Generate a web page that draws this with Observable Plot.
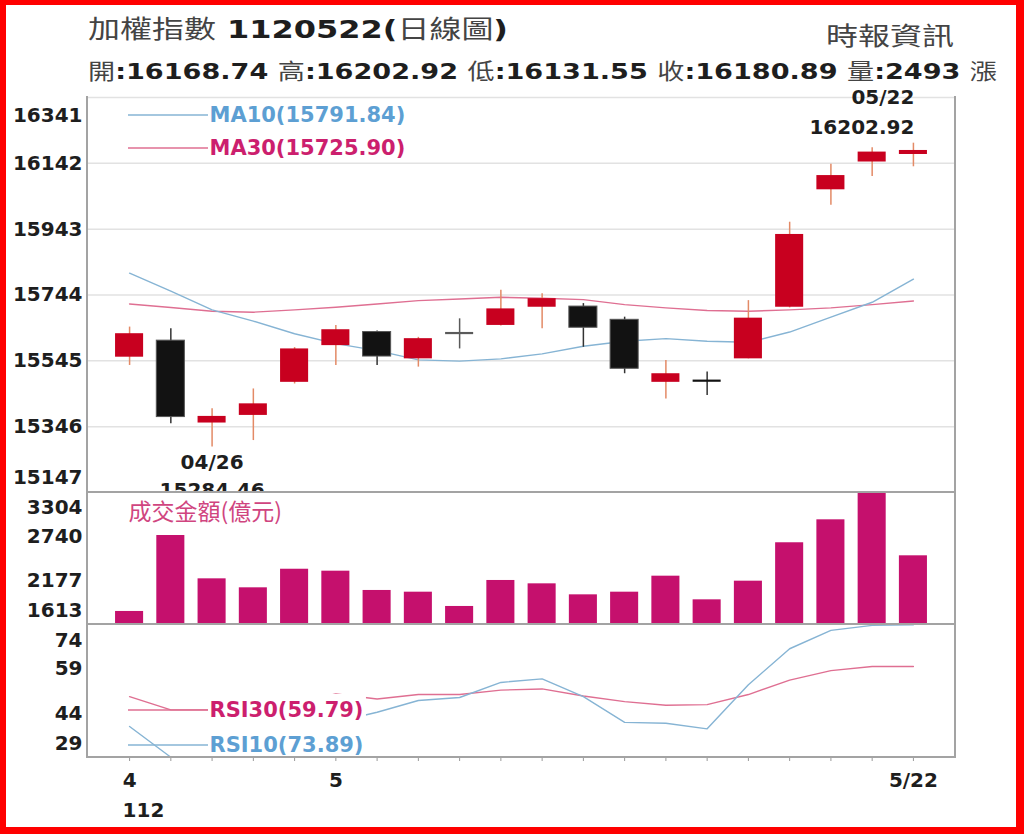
<!DOCTYPE html>
<html>
<head>
<meta charset="utf-8">
<script src="https://cdn.jsdelivr.net/npm/d3@7"></script>
<script src="https://cdn.jsdelivr.net/npm/@observablehq/plot@0.6"></script>
<style>
  html, body { margin: 0; padding: 0; background: #fff; }
  #wrap { position: relative; width: 1024px; height: 834px; overflow: hidden; background: #fff;
          font-family: "DejaVu Sans", "Noto Sans CJK TC", sans-serif; }
  .row { position: absolute; white-space: nowrap; transform-origin: 0 50%; line-height: 1; }
  .cj { font-family: "Noto Sans CJK TC", sans-serif; font-weight: 400; color: #444; }
  .nb { font-family: "DejaVu Sans", sans-serif; font-weight: 700; color: #1e1e1e; }
  .panel { position: absolute; left: 0; }
  #border { position: absolute; left: 0; top: 0; width: 1024px; height: 834px; box-sizing: border-box;
            border-style: solid; border-color: #ff0000; border-width: 5px 8px 7px 6px; pointer-events: none; z-index: 10; }
</style>
</head>
<body>
<div id="wrap">
  <div id="t1" class="row" style="left:88px;top:15px;font-size:25px;"><span class="cj">加權指數</span><span class="nb"> 1120522(</span><span class="cj">日線圖</span><span class="nb">)</span></div>
  <div id="t2" class="row" style="left:0px;top:22px;font-size:25px;"><span class="cj">時報資訊</span></div>
  <div id="t3" class="row" style="left:88px;top:58px;font-size:22px;"></div>
  <div id="p1" class="panel" style="top:80px;"></div>
  <div id="p2" class="panel" style="top:490px;"></div>
  <div id="p3" class="panel" style="top:622px;"></div>
  <div id="border"></div>
</div>
<script>
// ---------------- data ----------------
const dates = ["04/24","04/25","04/26","04/27","04/28","05/02","05/03","05/04","05/05","05/08",
               "05/09","05/10","05/11","05/12","05/15","05/16","05/17","05/18","05/19","05/22"];
const open  = [15556,15606,15357,15380,15480,15591,15632,15551,15629,15652,15707,15709,15669,15480,15487,15551,15707,16062,16146,16168.74];
const high  = [15647,15642,15400,15460,15585,15652,15635,15616,15672,15758,15748,15718,15677,15546,15511,15727,15964,16139,16189,16202.92];
const low   = [15531,15355,15284.46,15304,15475,15531,15531,15526,15581,15650,15642,15586,15506,15430,15440,15551,15705,16015,16102,16131.55];
const close = [15627,15375,15377,15415,15581,15639,15558,15612,15629,15702,15733,15645,15521,15506,15485,15674,15927,16105,16176,16180.89];
const volume = [1780,2753,2198,2083,2321,2296,2049,2027,1844,2177,2134,1993,2027,2232,1929,2168,2660,2954,3304,2493];
const ma10 = [15810,15756,15699,15665,15627,15597,15576,15548,15544,15551,15566,15589,15604,15612,15604,15601,15632,15677,15722,15791.84];
const ma30 = [15717,15706,15695,15692,15699,15707,15717,15727,15732,15737,15734,15730,15715,15705,15697,15695,15699,15705,15715,15725.90];
const rsi10 = [39.5,29.1,26,28,35,41,44.3,48.3,49.3,54.4,55.6,49.6,40.9,40.6,38.7,53.6,65.8,72.0,73.7,73.89];
const rsi30 = [49.6,45.1,45.1,46.0,47.5,50.5,48.8,50.3,50.3,51.8,52.2,49.8,47.9,46.7,46.9,50.3,55.2,58.4,59.8,59.79];

const priceTicks = [15147,15346,15545,15744,15943,16142,16341];
const volTicks = [1613,2177,2740,3304];
const rsiTicks = [29,44,59,74];
const xLabelDates = ["04/24","05/02","05/22"];
const xLabels = ["4","5","5/22"];
const yearLabel = "112";
const volTitle = "成交金額(億元)";

// ---------------- helpers ----------------
const RED = "#c8001f", BLACK = "#121212", FLAT = "#5a5a5a";
const BLUE_T = "#5d9fd3", PINK_T = "#cc1f6e", BLUE_L = "#86b4d4", PINK_L = "#df6f92";
const VOLC = "#c5106d", FRAME = "#a3a3a3";
const rows = dates.map((d, i) => ({date: d, open: open[i], high: high[i], low: low[i], close: close[i],
  vol: volume[i], ma10: ma10[i], ma30: ma30[i], rsi10: rsi10[i], rsi30: rsi30[i]}));
const dir = d => d.close > d.open ? 1 : d.close < d.open ? -1 : 0;
const isDoji = d => Math.abs(d.close - d.open) < 4;
const bodyColor = d => dir(d) > 0 ? RED : dir(d) < 0 ? BLACK : FLAT;
const wickColor = d => dir(d) > 0 ? "#e38a66" : dir(d) < 0 ? "#333" : FLAT;

const W = 1024, ML = 87, MR = 69;
const xOpts = {type: "band", domain: dates, paddingInner: 0.32, paddingOuter: 0.68, round: false};
const FONT = "DejaVu Sans";

const measureCtx = document.createElement("canvas").getContext("2d");
function measure(text, font) { measureCtx.font = font; return measureCtx.measureText(text).width; }
function dimsOf(args) { return args.find(a => a && typeof a === "object" && "marginLeft" in a && "width" in a && "height" in a); }

function borders(sides, stroke = FRAME, sw = 2) {
  return (...args) => {
    const d = dimsOf(args);
    const x0 = d.marginLeft, x1 = d.width - d.marginRight, y0 = d.marginTop, y1 = d.height - d.marginBottom;
    const g = d3.create("svg:g").attr("stroke", stroke).attr("stroke-width", sw).attr("fill", "none");
    if (sides.includes("l")) g.append("line").attr("x1", x0).attr("x2", x0).attr("y1", y0 - 1).attr("y2", y1 + 1);
    if (sides.includes("r")) g.append("line").attr("x1", x1).attr("x2", x1).attr("y1", y0 - 1).attr("y2", y1 + 1);
    if (sides.includes("t")) g.append("line").attr("x1", x0).attr("x2", x1).attr("y1", y0).attr("y2", y0);
    if (sides.includes("b")) g.append("line").attr("x1", x0).attr("x2", x1).attr("y1", y1).attr("y2", y1);
    return g.node();
  };
}
function swatch(color, dy, bgText) {
  return (...args) => {
    const d = dimsOf(args);
    const x0 = d.marginLeft, y0 = d.marginTop;
    const g = d3.create("svg:g");
    if (bgText) {
      const w = measure(bgText, `bold 21px "${FONT}"`);
      g.append("rect").attr("x", x0 + 121).attr("y", y0 + dy - 16).attr("width", w + 4).attr("height", 35).attr("fill", "white");
    }
    g.append("line").attr("x1", x0 + 41).attr("x2", x0 + 121).attr("y1", y0 + dy).attr("y2", y0 + dy)
      .attr("stroke", color).attr("stroke-width", 1.3);
    return g.node();
  };
}
const legendText = (label, color, dy, dx = 122, extra = {}) => Plot.text([label], {
  frameAnchor: "top-left", dx, dy, text: d => d, textAnchor: "start", lineAnchor: "middle",
  fill: color, fontSize: 21, fontWeight: "bold", ...extra});
const yAxisParts = (ticks, dTop, dBottom) => [
  Plot.axisY(ticks.slice(1, -1), {tickSize: 0, tickPadding: 5, tickFormat: "d", fontSize: 20, fontWeight: "bold", fill: "#1e1e1e", label: null}),
  Plot.axisY([ticks[ticks.length - 1]], {tickSize: 0, tickPadding: 5, tickFormat: "d", fontSize: 20, fontWeight: "bold", fill: "#1e1e1e", label: null, dy: dTop}),
  Plot.axisY([ticks[0]], {tickSize: 0, tickPadding: 5, tickFormat: "d", fontSize: 20, fontWeight: "bold", fill: "#1e1e1e", label: null, dy: dBottom})
];
const svgStyle = {fontFamily: FONT, overflow: "hidden", background: "transparent"};

// ---------------- price panel ----------------
const last = rows[rows.length - 1];
const lowRow = rows.reduce((a, b) => (b.low < a.low ? b : a));
const highRow = rows.reduce((a, b) => (b.high > a.high ? b : a));
const pricePlot = Plot.plot({
  width: W, height: 412, marginLeft: ML, marginRight: MR, marginTop: 17, marginBottom: 0,
  style: svgStyle,
  x: {...xOpts, axis: null},
  y: {domain: [priceTicks[0], priceTicks[priceTicks.length - 1]]},
  marks: [
    Plot.ruleY(priceTicks, {stroke: "#e2e2e2", strokeWidth: 1.5}),
    Plot.line(rows, {x: "date", y: "ma30", stroke: PINK_L, strokeWidth: 1.4}),
    Plot.line(rows, {x: "date", y: "ma10", stroke: BLUE_L, strokeWidth: 1.4}),
    Plot.ruleX(rows, {x: "date", y1: "low", y2: "high", stroke: wickColor, strokeWidth: 1.5}),
    Plot.barY(rows.filter(d => !isDoji(d)), {x: "date", y1: "open", y2: "close", fill: bodyColor,
      stroke: d => dir(d) < 0 ? "#555" : "none", strokeWidth: 1}),
    Plot.tickY(rows.filter(isDoji), {x: "date", y: "close", stroke: bodyColor, strokeWidth: 2.2}),
    Plot.text([highRow], {x: "date", y: "high", text: "date", dy: -46, textAnchor: "end", dx: 1, fontSize: 20, fontWeight: "bold", fill: "#1e1e1e"}),
    Plot.text([highRow], {x: "date", y: "high", text: d => d.high.toFixed(2), dy: -16, textAnchor: "end", dx: 1, fontSize: 20, fontWeight: "bold", fill: "#1e1e1e"}),
    Plot.text([lowRow], {x: "date", y: "low", text: "date", dy: 16, fontSize: 20, fontWeight: "bold", fill: "#1e1e1e"}),
    Plot.text([lowRow], {x: "date", y: "low", text: d => d.low.toFixed(2), dy: 44, fontSize: 20, fontWeight: "bold", fill: "#1e1e1e"}),
    swatch(BLUE_L, 18),
    swatch(PINK_L, 51),
    legendText(`MA10(${ma10[ma10.length - 1].toFixed(2)})`, BLUE_T, 18),
    legendText(`MA30(${ma30[ma30.length - 1].toFixed(2)})`, PINK_T, 51),
    ...yAxisParts(priceTicks, 18, -15),
    borders("lr")
  ]
});
document.getElementById("p1").append(pricePlot);

// ---------------- volume panel ----------------
const volPlot = Plot.plot({
  width: W, height: 134, marginLeft: ML, marginRight: MR, marginTop: 2, marginBottom: 0,
  style: svgStyle,
  x: {...xOpts, axis: null},
  y: {domain: [volTicks[0], volTicks[volTicks.length - 1]]},
  marks: [
    Plot.barY(rows, {x: "date", y1: volTicks[0], y2: "vol", fill: VOLC, clip: true}),
    Plot.text([volTitle], {frameAnchor: "top-left", dx: 41, dy: 20, text: d => d, textAnchor: "start", lineAnchor: "middle",
      fill: "#d0457f", fontSize: 23, fontFamily: "Noto Sans CJK TC"}),
    ...yAxisParts(volTicks, 15, -14),
    borders("lrt")
  ]
});
document.getElementById("p2").append(volPlot);

// ---------------- RSI panel ----------------
const rsiPlot = Plot.plot({
  width: W, height: 205, marginLeft: ML, marginRight: MR, marginTop: 2, marginBottom: 70,
  style: svgStyle,
  x: {...xOpts},
  y: {domain: [rsiTicks[0], rsiTicks[rsiTicks.length - 1]]},
  marks: [
    Plot.line(rows, {x: "date", y: "rsi30", stroke: PINK_L, strokeWidth: 1.4, clip: true}),
    Plot.line(rows, {x: "date", y: "rsi10", stroke: BLUE_L, strokeWidth: 1.4, clip: true}),
    swatch(PINK_L, 86, `RSI30(${rsi30[rsi30.length - 1].toFixed(2)})`),
    swatch(BLUE_L, 121, `RSI10(${rsi10[rsi10.length - 1].toFixed(2)})`),
    legendText(`RSI30(${rsi30[rsi30.length - 1].toFixed(2)})`, PINK_T, 86),
    legendText(`RSI10(${rsi10[rsi10.length - 1].toFixed(2)})`, BLUE_T, 121),
    ...yAxisParts(rsiTicks, 16, -14),
    Plot.axisX(dates, {tickSize: 4, tickFormat: () => "", stroke: "#999", label: null}),
    Plot.axisX(xLabelDates, {tickSize: 0, tickPadding: 15, tickFormat: d => xLabels[xLabelDates.indexOf(d)],
      fontSize: 20, fontWeight: "bold", fill: "#1e1e1e", label: null}),
    Plot.axisX([xLabelDates[0]], {tickSize: 0, tickPadding: 45, tickFormat: () => yearLabel, textAnchor: "start", dx: -7,
      fontSize: 20, fontWeight: "bold", fill: "#1e1e1e", label: null}),
    borders("lrtb")
  ]
});
document.getElementById("p3").append(rsiPlot);

// ---------------- header ----------------
const t3 = document.getElementById("t3");
const f2 = v => v.toFixed(2);
const parts = [["開", f2(last.open)], ["高", f2(last.high)], ["低", f2(last.low)], ["收", f2(last.close)], ["量", String(last.vol)]];
t3.innerHTML = parts.map(([k, v]) => `<span class="cj">${k}</span><span class="nb">:${v} </span>`).join("") + `<span class="cj">漲</span>`;

function fit(id, target, rightEdge) {
  const el = document.getElementById(id);
  el.style.transform = "none";
  const w = el.getBoundingClientRect().width;
  el.style.transform = `scaleX(${target / w})`;
  if (rightEdge !== undefined) el.style.left = (rightEdge - target) + "px";
}
function fitAll() { fit("t1", 420); fit("t2", 128, 954); fit("t3", 909); }
fitAll();
if (document.fonts && document.fonts.ready) document.fonts.ready.then(fitAll);
</script>
</body>
</html>
